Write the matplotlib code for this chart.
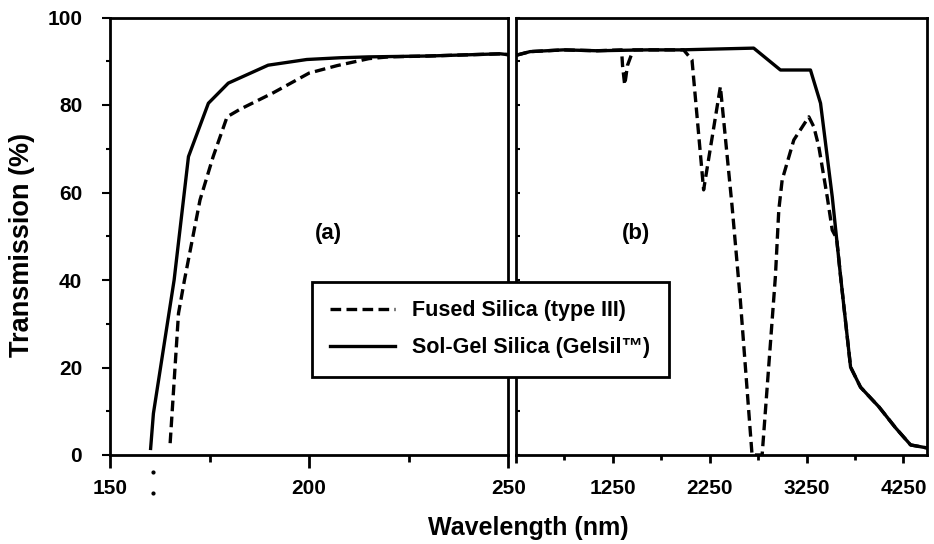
import matplotlib
matplotlib.use("Agg")
import matplotlib.pyplot as plt

plt.rcParams['font.family'] = ['Liberation Sans', 'DejaVu Sans']
plt.rcParams['font.weight'] = 'bold'

# (a) UV region, 150-250 nm
uv_solgel_x = [160.2, 160.9, 166.1, 169.7, 174.7, 179.7, 189.7, 199.4, 207.8, 215, 230, 248, 250]
uv_solgel_y = [1.5, 9.5, 40, 68.2, 80.4, 85, 89.1, 90.4, 90.8, 91.0, 91.2, 91.7, 91.5]
uv_fused_x = [165.1, 167.2, 168.7, 172.6, 175.9, 179.4, 182.6, 191, 200, 207, 215, 220, 230, 248, 250]
uv_fused_y = [2.7, 32.4, 40, 58.3, 68.2, 77.3, 79.0, 82.8, 87.3, 89.0, 90.6, 91.0, 91.2, 91.7, 91.5]

# (b) 250-4500 nm
ir_solgel_x = [257, 395, 739, 1085, 1602, 1946, 2704, 2980, 3290, 3394, 3515, 3601, 3704, 3807, 3997, 4169, 4324, 4497]
ir_solgel_y = [91.4, 92.2, 92.6, 92.4, 92.6, 92.6, 93.0, 88.0, 88.0, 80.4, 59.0, 40.8, 20.1, 15.5, 11.0, 6.2, 2.3, 1.6]
ir_fused_x = [257, 395, 739, 1085, 1340, 1350, 1372, 1385, 1400, 1460, 1602, 1980, 2067, 2187,
              2360, 2481, 2566, 2687, 2791, 2928, 2963, 2998, 3118, 3273, 3325, 3376, 3463, 3515,
              3560, 3601, 3704, 3807, 3997, 4169, 4324, 4497]
ir_fused_y = [91.4, 92.2, 92.6, 92.4, 92.6, 89.0, 84.6, 86.5, 89.0, 92.6, 92.6, 92.6, 90.3, 60.6,
              84.2, 56.8, 35.4, 0.0, 0.0, 40.8, 56.0, 62.9, 72.0, 77.3, 75.0, 70.5, 59.0, 51.4,
              49.5, 40.8, 20.1, 15.5, 11.0, 6.2, 2.3, 1.6]

labels = ['Fused Silica (type III)', 'Sol-Gel Silica (Gelsil\u2122)']
uv_ticks = [150, 200, 250]
ir_ticks = [250, 1250, 2250, 3250, 4250]
ir_tick_labels = ['', '1250', '2250', '3250', '4250']
y_ticks = [0, 20, 40, 60, 80, 100]

W, H = 934, 544
fig = plt.figure(figsize=(W / 100, H / 100), dpi=100)
ax1 = fig.add_axes([110 / W, 89 / H, 398.3 / W, 437.5 / H])
ax2 = fig.add_axes([516 / W, 89 / H, 410.7 / W, 437.5 / H])

dash = (0, (3.2, 1.6))
lw = 2.4

ax1.plot(uv_fused_x, uv_fused_y, color='black', lw=lw, linestyle=dash)
ax1.plot(uv_solgel_x, uv_solgel_y, color='black', lw=lw)
l_fused, = ax2.plot(ir_fused_x, ir_fused_y, color='black', lw=lw, linestyle=dash)
l_sol, = ax2.plot(ir_solgel_x, ir_solgel_y, color='black', lw=lw)

for ax in (ax1, ax2):
    ax.set_ylim(0, 100)
    ax.set_yticks(y_ticks)
    ax.set_yticks(range(10, 100, 20), minor=True)
    for s in ax.spines.values():
        s.set_linewidth(2)

ax1.set_xlim(150, 250)
ax1.set_xticks(uv_ticks)
ax1.set_xticks([175, 225], minor=True)
ax1.tick_params(axis='x', which='major', direction='out', length=9, width=2, pad=8, labelsize=15)
ax1.tick_params(axis='x', which='minor', direction='out', length=5, width=2)
ax1.tick_params(axis='y', which='major', direction='out', length=6, width=1.5, pad=14, labelsize=15)
ax1.tick_params(axis='y', which='minor', direction='out', length=3, width=1.5)

ax2.set_xlim(250, 4490)
ax2.set_xticks(ir_ticks)
ax2.set_xticklabels(ir_tick_labels)
ax2.set_xticks([750, 1750, 2750, 3750], minor=True)
ax2.tick_params(axis='x', which='major', direction='out', length=6, width=2, pad=11, labelsize=15)
ax2.tick_params(axis='x', which='minor', direction='out', length=3.5, width=2)
ax2.tick_params(axis='y', which='both', direction='in', length=3, width=1.5, labelleft=False)

ax1.text(204.8, 50.7, '(a)', fontsize=16, ha='center', va='center')
ax2.text(1492, 50.7, '(b)', fontsize=16, ha='center', va='center')

# little ':' mark under the axis near 160 nm
ax1.plot([160.7, 160.7], [-3.8, -8.6], 'k.', ms=4, clip_on=False)

fig.text(528 / W, 9 / H, 'Wavelength (nm)', fontsize=18, ha='center', va='baseline')
fig.text(22 / W, (H - 245) / H, 'Transmission (%)', fontsize=19.5, rotation=90,
         ha='center', va='center')

leg = fig.legend([l_fused, l_sol], labels, loc='upper left',
                 bbox_to_anchor=(312 / W, (H - 282) / H), borderaxespad=0,
                 fontsize=15.5, handlelength=3.0, handletextpad=0.8,
                 labelspacing=0.75, borderpad=0.85, fancybox=False,
                 edgecolor='black', framealpha=1)
leg.get_frame().set_linewidth(2)

fig.savefig('out.png', dpi=100)
